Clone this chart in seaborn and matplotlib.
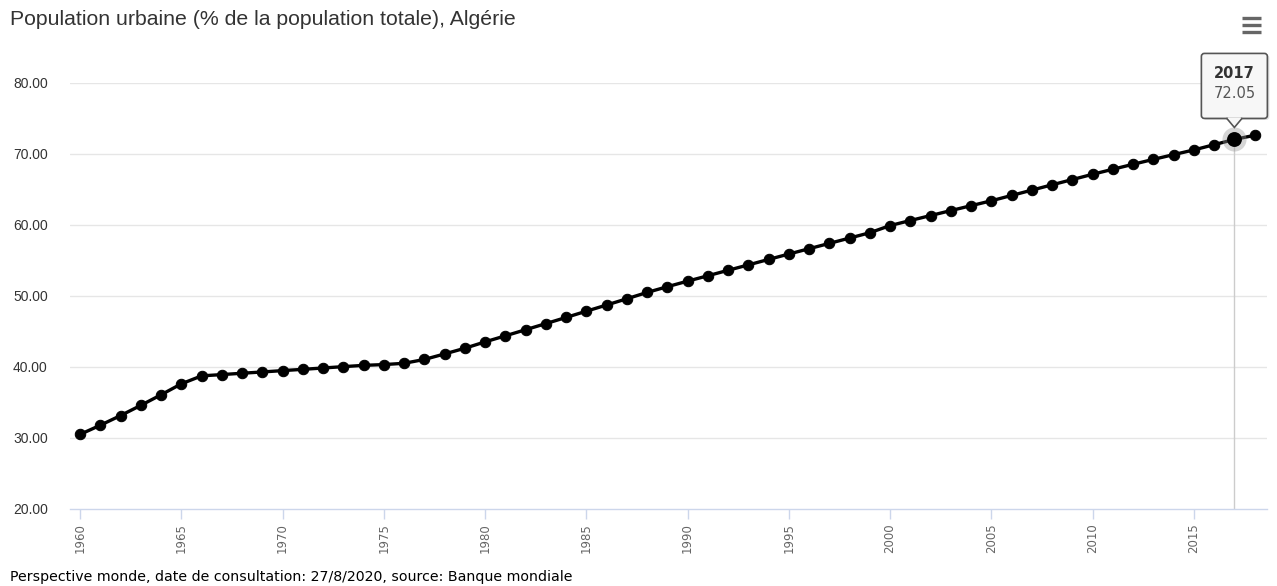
import matplotlib
matplotlib.use("Agg")
import matplotlib.pyplot as plt
import matplotlib.transforms as mtransforms
import seaborn as sns
import pandas as pd
from matplotlib.lines import Line2D
from matplotlib.patches import FancyBboxPatch, Polygon

# Données : population urbaine (% de la population totale), Algérie
years = list(range(1960, 2019))
urban_pct = [
    30.51, 31.80, 33.16, 34.60, 36.09, 37.63, 38.75, 38.93, 39.12, 39.30,
    39.49, 39.67, 39.86, 40.05, 40.23, 40.34, 40.52, 41.06, 41.84, 42.64,
    43.54, 44.39, 45.25, 46.11, 46.98, 47.86, 48.73, 49.61, 50.50, 51.31,
    52.09, 52.85, 53.62, 54.38, 55.15, 55.91, 56.66, 57.41, 58.16, 58.91,
    59.92, 60.63, 61.33, 62.03, 62.72, 63.41, 64.16, 64.91, 65.66, 66.40,
    67.14, 67.85, 68.55, 69.24, 69.91, 70.57, 71.31, 72.05, 72.63,
]
y_ticks = [20, 30, 40, 50, 60, 70, 80]
x_ticks = list(range(1960, 2016, 5))
hover_year = 2017

title = "Population urbaine (% de la population totale), Algérie"
footer = "Perspective monde, date de consultation: 27/8/2020, source: Banque mondiale"

df = pd.DataFrame({"annee": years, "pct": urban_pct})

sns.set_style("white")
plt.rcParams["font.family"] = ["DejaVu Sans"]

fig = plt.figure(figsize=(12.77, 5.86), dpi=100)
ax = fig.add_axes([0.0548, 0.1314, 0.9372, 0.7270])

# grille horizontale
for v in y_ticks[1:]:
    ax.axhline(v, color="#e6e6e6", lw=1, zorder=0)

# ligne du crosshair
hover_val = df.loc[df["annee"] == hover_year, "pct"].iloc[0]
ax.plot([hover_year, hover_year], [20, hover_val], color="#cccccc", lw=1, zorder=1)

sns.lineplot(data=df, x="annee", y="pct", ax=ax, color="black", lw=2.4,
             marker="o", markersize=7.5, markeredgecolor="black", zorder=3)

# point survolé
ax.scatter([hover_year], [hover_val], s=300, color="#999999", alpha=0.4,
           zorder=4, linewidths=0)
ax.scatter([hover_year], [hover_val], s=115, color="black", zorder=5,
           linewidths=0)

ax.set_xlim(1959.5, 2018.6)
ax.set_ylim(20, 80)
ax.set_yticks(y_ticks)
ax.set_yticklabels([f"{v:.2f}" for v in y_ticks])
ax.set_xticks(x_ticks)
ax.set_xticklabels([str(x) for x in x_ticks], rotation=90)
ax.set_xlabel("")
ax.set_ylabel("")

for s in ["top", "right", "left"]:
    ax.spines[s].set_visible(False)
ax.spines["bottom"].set_color("#ccd6eb")
ax.spines["bottom"].set_linewidth(1)

ax.tick_params(axis="y", length=0, pad=16, labelsize=10, labelcolor="#333333")
for lab in ax.get_yticklabels():
    lab.set_fontfamily(["Liberation Sans", "DejaVu Sans"])
ax.tick_params(axis="x", bottom=True, length=7, width=1, color="#ccd6eb",
               pad=3, labelsize=8.5, labelcolor="#666666")

# info-bulle (coordonnées en pouces autour du point survolé)
tip = fig.dpi_scale_trans + mtransforms.ScaledTranslation(
    hover_year, hover_val, ax.transData)
shadow = FancyBboxPatch((-0.30, 0.225), 0.62, 0.61,
                        boxstyle="round,pad=0.02,rounding_size=0.03",
                        fc="#000000", ec="none", alpha=0.12,
                        transform=tip + mtransforms.ScaledTranslation(0.01, -0.01, fig.dpi_scale_trans),
                        clip_on=False, zorder=6)
box = FancyBboxPatch((-0.31, 0.23), 0.62, 0.61,
                     boxstyle="round,pad=0.02,rounding_size=0.03",
                     fc="#f7f7f7", ec="#555555", lw=1.2,
                     transform=tip, clip_on=False, zorder=7)
arrow = Polygon([(-0.08, 0.215), (0.0, 0.12), (0.08, 0.215)], closed=False,
                fc="#f7f7f7", ec="#555555", lw=1.2,
                transform=tip, clip_on=False, zorder=8)
cover = Polygon([(-0.065, 0.22), (0.0, 0.14), (0.065, 0.22)], closed=True,
                fc="#f7f7f7", ec="none", transform=tip, clip_on=False, zorder=8)
for p in (shadow, box, arrow, cover):
    ax.add_artist(p)
ax.text(0.0, 0.66, str(hover_year), transform=tip, ha="center", va="center",
        fontsize=10.5, fontweight="bold", color="#333333", zorder=9, clip_on=False)
ax.text(0.0, 0.46, f"{hover_val:.2f}", transform=tip, ha="center", va="center",
        fontsize=10.5, color="#555555", zorder=9, clip_on=False)

# titre et source
fig.text(0.008, 0.967, title, fontsize=15.3, color="#333333",
         family=["Liberation Sans", "DejaVu Sans"], ha="left", va="center")
fig.text(0.008, 0.016, footer, fontsize=10.2, color="black",
         ha="left", va="center")

# icône menu
for yy in [0.945, 0.957, 0.969]:
    fig.add_artist(Line2D([0.9725, 0.9875], [yy, yy], color="#666666",
                          lw=2.4, solid_capstyle="butt"))

fig.savefig("out.png", dpi=100)
